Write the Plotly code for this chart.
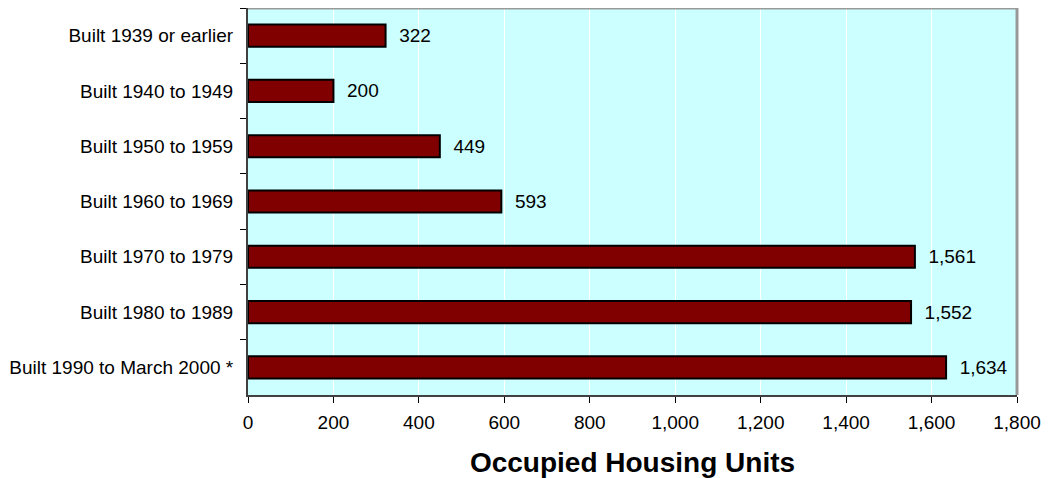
import plotly.graph_objects as go

categories = [
    "Built 1939 or earlier",
    "Built 1940 to 1949",
    "Built 1950 to 1959",
    "Built 1960 to 1969",
    "Built 1970 to 1979",
    "Built 1980 to 1989",
    "Built 1990 to March 2000 *",
]
values = [322, 200, 449, 593, 1561, 1552, 1634]
labels = [f"  {v:,}" for v in values]
x_ticks = list(range(0, 2000, 200))
x_tick_labels = [f"{v:,}" for v in x_ticks]

FONT = "Arial, Liberation Sans, sans-serif"

fig = go.Figure(
    go.Bar(
        y=categories,
        x=values,
        orientation="h",
        marker=dict(color="#800000", line=dict(color="#000000", width=2)),
        text=labels,
        textposition="outside",
        textfont=dict(family=FONT, size=19, color="#000000"),
        cliponaxis=False,
        hoverinfo="skip",
    )
)

fig.update_layout(
    width=1050,
    height=470,
    margin=dict(l=240, r=41, t=0, b=83),
    paper_bgcolor="#FFFFFF",
    plot_bgcolor="#CCFFFF",
    bargap=0.6,
    showlegend=False,
    font=dict(family=FONT, size=19, color="#000000"),
    xaxis=dict(
        range=[0, 1800],
        tickvals=x_ticks,
        ticktext=x_tick_labels,
        showgrid=True,
        gridcolor="#FFFFFF",
        gridwidth=1,
        zeroline=False,
        showline=True,
        linecolor="#404040",
        linewidth=2,
        ticks="outside",
        ticklen=6,
        tickcolor="#000000",
        tickfont=dict(size=19),
        ticklabelstandoff=3,
        title=dict(
            text="<b>Occupied Housing Units</b>",
            font=dict(size=28, family=FONT),
            standoff=22,
        ),
    ),
    yaxis=dict(
        autorange="reversed",
        showgrid=False,
        showline=True,
        linecolor="#404040",
        linewidth=2,
        ticks="outside",
        tickson="boundaries",
        ticklen=6,
        tickcolor="#000000",
        tickfont=dict(size=19),
        ticklabelstandoff=9,
    ),
    shapes=[
        dict(type="line", xref="paper", yref="paper", x0=0, x1=1, y0=1, y1=1,
             line=dict(color="#999999", width=3)),
        dict(type="line", xref="paper", yref="paper", x0=1, x1=1, y0=0, y1=1,
             line=dict(color="#999999", width=3)),
    ],
)

fig.write_html("out.html")
